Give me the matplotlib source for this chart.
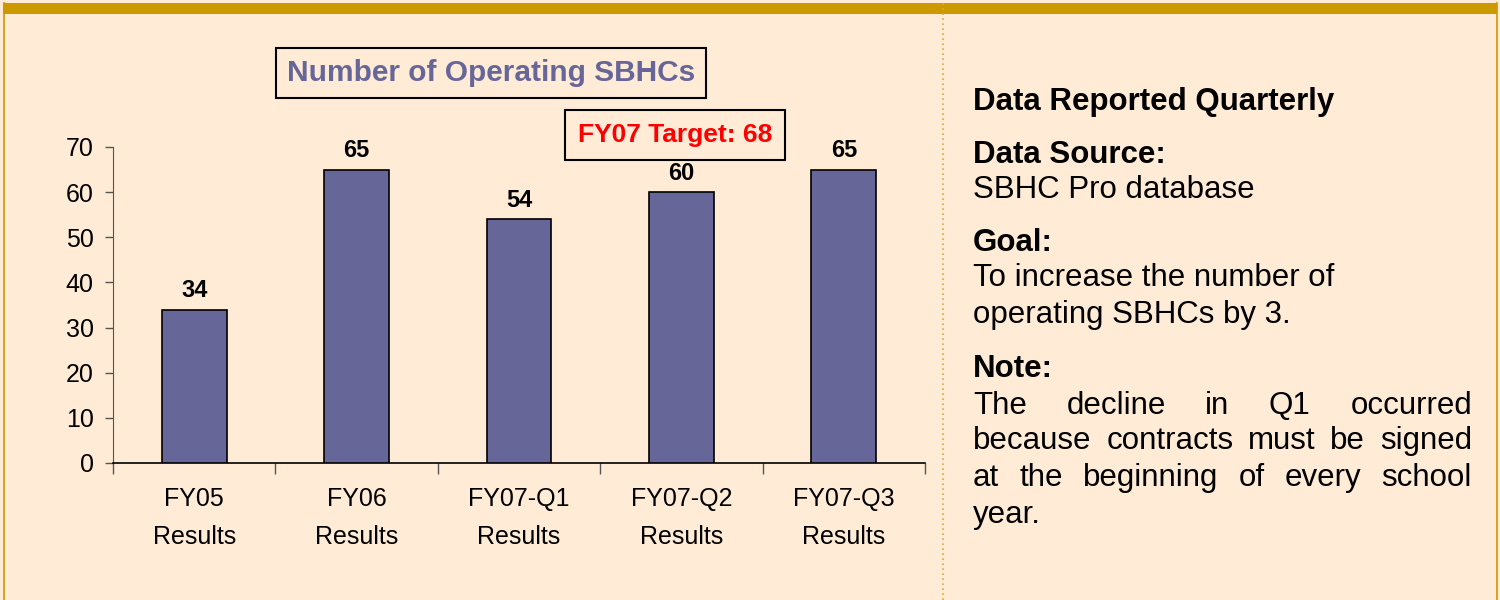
import matplotlib
matplotlib.use("Agg")
import matplotlib.pyplot as plt
from matplotlib.patches import Rectangle
from matplotlib.lines import Line2D

categories = ["FY05\nResults", "FY06\nResults", "FY07-Q1\nResults", "FY07-Q2\nResults", "FY07-Q3\nResults"]
values = [34, 65, 54, 60, 65]
y_ticks = [0, 10, 20, 30, 40, 50, 60, 70]
title = "Number of Operating SBHCs"
target_label = "FY07 Target: 68"

BG = "#FFEBD6"
GOLD = "#CC9900"
BAR = "#666699"

plt.rcParams["font.family"] = ["Liberation Sans", "DejaVu Sans"]

W, H = 1500, 600
fig = plt.figure(figsize=(15, 6), dpi=100)
fig.patch.set_facecolor(BG)


def fx(px):
    return px / W


def fy(py):
    return 1 - py / H


# frame: gold top band, thin side borders, dotted divider
fig.patches.append(Rectangle((fx(3), fy(14)), fx(1494), 11 / H, transform=fig.transFigure,
                             facecolor=GOLD, edgecolor="none", zorder=0))
fig.lines.append(Line2D([fx(3.5), fx(3.5)], [0, fy(3)], transform=fig.transFigure, color=GOLD, lw=1.2))
fig.lines.append(Line2D([fx(1496.5), fx(1496.5)], [0, fy(3)], transform=fig.transFigure, color=GOLD, lw=1.2))
fig.lines.append(Line2D([fx(943), fx(943)], [0, 1], transform=fig.transFigure, color="#E0A830",
                        lw=1.2, ls=(0, (1, 2))))

# chart
ax = fig.add_axes([fx(113), fy(463), fx(925 - 113), (463 - 147) / H])
ax.set_facecolor("none")
x = list(range(len(values)))
ax.bar(x, values, width=0.4, color=BAR, edgecolor="black", linewidth=1.2, zorder=3)
for xi, v in zip(x, values):
    ax.text(xi, v + 1.6, str(v), ha="center", va="bottom", fontsize=17, fontweight="bold")

ax.set_xlim(-0.5, len(values) - 0.5)
ax.set_ylim(0, 70)
ax.set_yticks(y_ticks)
ax.set_xticks(x)
ax.set_xticklabels(categories, fontsize=18, linespacing=1.75)
ax.set_xticks([i - 0.5 for i in range(len(values) + 1)], minor=True)
ax.tick_params(axis="x", which="major", length=0, pad=17)
ax.tick_params(axis="x", which="minor", length=8, width=1, color="#555555", direction="out")
ax.tick_params(axis="y", labelsize=18, length=6, width=1, color="#555555", direction="out", pad=8)
for s in ["top", "right"]:
    ax.spines[s].set_visible(False)
ax.spines["left"].set_color("#555555")
ax.spines["bottom"].set_color("black")
ax.spines["bottom"].set_linewidth(1.2)

# title box and target box
fig.text(fx(491), fy(73), title, ha="center", va="center", fontsize=21.5, fontweight="bold",
         color=BAR, bbox=dict(boxstyle="square,pad=0.38", facecolor=BG, edgecolor="black", linewidth=1.5))
fig.text(fx(675), fy(135), target_label, ha="center", va="center", fontsize=19, fontweight="bold",
         color="#FF0000", bbox=dict(boxstyle="square,pad=0.5", facecolor=BG, edgecolor="black", linewidth=1.5))

# right-hand notes
TX = 973
TR = 1472
fs = 22.5
fig.text(fx(TX), fy(102), "Data Reported Quarterly", fontsize=fs, fontweight="bold", va="center")
fig.text(fx(TX), fy(155), "Data Source:", fontsize=fs, fontweight="bold", va="center")
fig.text(fx(TX), fy(190), "SBHC Pro database", fontsize=fs, va="center")
fig.text(fx(TX), fy(243), "Goal:", fontsize=fs, fontweight="bold", va="center")
fig.text(fx(TX), fy(278), "To increase the number of", fontsize=fs, va="center")
fig.text(fx(TX), fy(315), "operating SBHCs by 3.", fontsize=fs, va="center")
fig.text(fx(TX), fy(369), "Note:", fontsize=fs, fontweight="bold", va="center")

note_lines = [
    "The decline in Q1 occurred",
    "because contracts must be signed",
    "at the beginning of every school",
]
note_y = [406, 441, 478]
renderer = fig.canvas.get_renderer()
for line, py in zip(note_lines, note_y):
    words = line.split()
    widths = []
    for w in words:
        t = fig.text(0, 0, w, fontsize=fs)
        widths.append(t.get_window_extent(renderer).width)
        t.remove()
    gap = (TR - TX - sum(widths)) / (len(words) - 1)
    cur = TX
    for w, wd in zip(words, widths):
        fig.text(fx(cur), fy(py), w, fontsize=fs, va="center")
        cur += wd + gap
fig.text(fx(TX), fy(515), "year.", fontsize=fs, va="center")

fig.savefig("out.png", dpi=100, facecolor=BG)
